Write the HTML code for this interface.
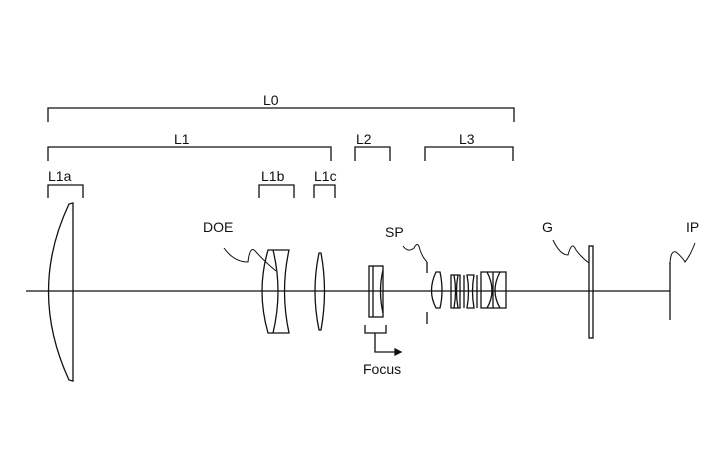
<!DOCTYPE html>
<html><head><style>body{margin:0;background:#fff}svg{display:block}</style></head><body>
<svg width="728" height="462" viewBox="0 0 728 462" xmlns="http://www.w3.org/2000/svg" font-family="Liberation Sans, sans-serif" font-size="14" fill="none" stroke="#111" stroke-width="1.3">
<g fill="#111" stroke="none">
<text x="263" y="105">L0</text>
<text x="174" y="144">L1</text>
<text x="356" y="144">L2</text>
<text x="459" y="144">L3</text>
<text x="48" y="181">L1a</text>
<text x="261" y="181">L1b</text>
<text x="314" y="181">L1c</text>
<text x="203" y="232">DOE</text>
<text x="385" y="237">SP</text>
<text x="542" y="232">G</text>
<text x="686" y="232">IP</text>
<text x="363" y="374">Focus</text>
</g>
<path d="M48 122V108H514V122"/>
<path d="M48 161V147H331V161"/>
<path d="M355 161V147H390V161"/>
<path d="M425 161V147H513V161"/>
<path d="M48 198V185H83V198"/>
<path d="M259 198V185H294V198"/>
<path d="M314 198V185H335V198"/>
<path d="M26 291H670"/>
<path d="M73 203L69 204Q28 291 69 380L73 381Z"/>
<path d="M268 250H289Q280 291 289 333H268Q256 291 268 250Z"/>
<path d="M273 250Q283 291 273 333"/>
<path d="M224 248Q234 262 248 262Q250 244 256 252Q265 262 276 271" stroke-width="1"/>
<path d="M319 253Q311 291 319 330H321Q328 291 321 253Z"/>
<rect x="369" y="266" width="14" height="51"/>
<path d="M373 266V317"/>
<path d="M383 270Q378 291 383 313"/>
<path d="M365 325V333H386V325M375 333V352H398"/>
<path d="M395 349L401 352L395 355Z" fill="#111"/>
<path d="M427 262V273M427 312V324"/>
<path d="M403 246Q408 253 414 248Q418 240 420 250Q423 258 427 262" stroke-width="1"/>
<path d="M436 272H440Q444 291 440 308H436Q427 291 436 272Z"/>
<path d="M451 275H460V308H451Z M454 275Q457 291 454 308 M458 275Q455 291 458 308"/>
<path d="M467 275H474Q471 291 474 308H467Q470 291 467 275Z M464 275V308 M477 275V308"/>
<path d="M481 272H506V308H481Z M487 272Q497 291 487 308 M500 272Q490 291 500 308 M493 272V308"/>
<rect x="589" y="246" width="4" height="92"/>
<path d="M553 240Q560 255 568 255Q572 240 576 250Q582 258 589 263" stroke-width="1"/>
<path d="M670 262V320"/>
<path d="M670 266Q670 250 676 252Q683 258 685 262Q690 256 695 243" stroke-width="1"/>
</svg>
</body></html>
